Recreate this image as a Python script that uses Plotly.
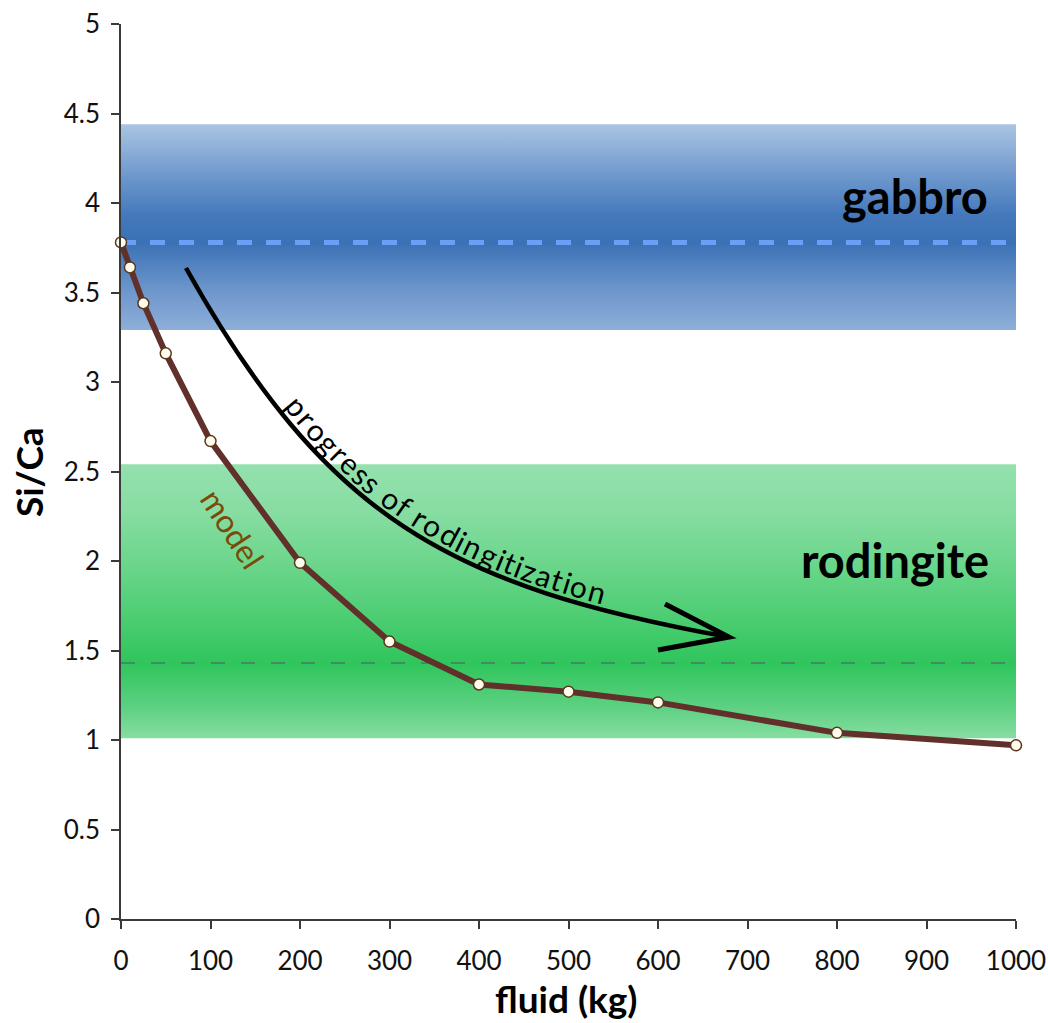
import numpy as np
import plotly.graph_objects as go

# ---------------- data ----------------
fluid_kg = [0, 10, 25, 50, 100, 200, 300, 400, 500, 600, 800, 1000]
si_ca_model = [3.78, 3.64, 3.44, 3.16, 2.67, 1.99, 1.55, 1.31, 1.27, 1.21, 1.04, 0.97]

gabbro_range = [3.29, 4.44]
gabbro_mean = 3.78
rodingite_range = [1.01, 2.54]
rodingite_mean = 1.43

x_ticks = [0, 100, 200, 300, 400, 500, 600, 700, 800, 900, 1000]
y_ticks = [0, 0.5, 1, 1.5, 2, 2.5, 3, 3.5, 4, 4.5, 5]
y_tick_labels = ["0", "0.5", "1", "1.5", "2", "2.5", "3", "3.5", "4", "4.5", "5"]

arrow_label = "progress of rodingitization"

# ---------------- layout constants ----------------
FIG_W, FIG_H = 1048, 1023
M_L, M_R, M_T, M_B = 121, 32, 24, 104
PW, PH = FIG_W - M_L - M_R, FIG_H - M_T - M_B
X_RANGE = [0, 1000]
Y_RANGE = [0, 5]
FONT = "Lato"


def to_px(x, y):
    return (M_L + (x - X_RANGE[0]) / (X_RANGE[1] - X_RANGE[0]) * PW,
            M_T + (Y_RANGE[1] - y) / (Y_RANGE[1] - Y_RANGE[0]) * PH)


def to_data(px, py):
    return (X_RANGE[0] + (px - M_L) / PW * (X_RANGE[1] - X_RANGE[0]),
            Y_RANGE[1] - (py - M_T) / PH * (Y_RANGE[1] - Y_RANGE[0]))


fig = go.Figure()


def band(rng, stops):
    lo, hi = rng
    cs = [[(v - lo) / (hi - lo), c] for v, c in stops]
    fig.add_trace(go.Scatter(
        x=[X_RANGE[0], X_RANGE[1], X_RANGE[1], X_RANGE[0], X_RANGE[0]],
        y=[lo, lo, hi, hi, lo], mode="lines", line=dict(width=0),
        fill="toself",
        fillgradient=dict(type="vertical", colorscale=cs, start=lo, stop=hi),
        hoverinfo="skip", showlegend=False))


g_lo, g_hi = gabbro_range
band(gabbro_range, [
    (g_lo, "#8dafd9"), (g_lo + 0.2, "#7199cd"), (gabbro_mean, "#3b71b5"),
    (gabbro_mean + 0.15, "#4478bb"), (gabbro_mean + 0.35, "#6a95cb"), (g_hi, "#aac4e2")])
r_lo, r_hi = rodingite_range
band(rodingite_range, [
    (r_lo, "#86dea2"), (r_lo + 0.15, "#62d286"), (rodingite_mean, "#2fc55c"),
    (rodingite_mean + 0.25, "#4ccd72"), (rodingite_mean + 0.6, "#70d78f"),
    (r_hi - 0.25, "#88dda3"), (r_hi, "#94e1ad")])

# mean dashed lines
fig.add_trace(go.Scatter(x=X_RANGE, y=[gabbro_mean, gabbro_mean], mode="lines",
                         line=dict(color="#6a9ff5", width=5, dash="15px,14px"),
                         hoverinfo="skip", showlegend=False))
fig.add_trace(go.Scatter(x=X_RANGE, y=[rodingite_mean, rodingite_mean], mode="lines",
                         line=dict(color="#3f8d60", width=2, dash="14px,16px"),
                         hoverinfo="skip", showlegend=False))

# model curve
fig.add_trace(go.Scatter(x=fluid_kg, y=si_ca_model, mode="lines+markers",
                         line=dict(color="#62302b", width=6),
                         marker=dict(size=11, color="#fffbee",
                                     line=dict(color="#5a3818", width=1.5)),
                         cliponaxis=False, showlegend=False))

# ---------------- curved arrow ----------------
ctrl = [to_data(186, 268), to_data(326, 518), to_data(448, 586), to_data(729, 637)]
path = "M {:.2f},{:.3f} C {:.2f},{:.3f} {:.2f},{:.3f} {:.2f},{:.3f}".format(
    *[v for p in ctrl for v in p])
fig.add_shape(type="path", path=path, xref="x", yref="y",
              line=dict(color="black", width=4.5), layer="above")
up = to_data(665, 604)
lo_ = to_data(658, 650)
tip = ctrl[3]
fig.add_shape(type="path",
              path="M {:.2f},{:.3f} L {:.2f},{:.3f} L {:.2f},{:.3f}".format(
                  up[0], up[1], tip[0], tip[1], lo_[0], lo_[1]),
              xref="x", yref="y", line=dict(color="black", width=5), layer="above")

# text along the arrow
P = np.array([to_px(*c) for c in ctrl])
t = np.linspace(0, 1, 3000)[:, None]
B = ((1 - t) ** 3) * P[0] + 3 * ((1 - t) ** 2) * t * P[1] + 3 * (1 - t) * t ** 2 * P[2] + t ** 3 * P[3]
dB = 3 * ((1 - t) ** 2) * (P[1] - P[0]) + 6 * (1 - t) * t * (P[2] - P[1]) + 3 * t ** 2 * (P[3] - P[2])
tang = dB / np.linalg.norm(dB, axis=1)[:, None]
normal = np.stack([tang[:, 1], -tang[:, 0]], axis=1)
OFF = 17
O = B + OFF * normal
seg = np.linalg.norm(np.diff(O, axis=0), axis=1)
s = np.concatenate([[0], np.cumsum(seg)])


def nearest(pt):
    return int(np.argmin(np.linalg.norm(O - np.array(pt), axis=1)))


i0, i1 = nearest((296, 408)), nearest((597, 593))
s0, s1 = s[i0], s[i1]

W_EM = {"p": .565, "r": .37, "o": .565, "g": .51, "e": .52, "s": .42, " ": .25, "f": .32,
        "d": .565, "i": .24, "n": .56, "t": .35, "z": .45, "a": .49}
widths = np.array([W_EM.get(c, .5) for c in arrow_label])
centers = np.cumsum(widths) - widths / 2
centers = (centers - centers[0]) / (centers[-1] - centers[0])
for ch, f in zip(arrow_label, centers):
    if ch == " ":
        continue
    sv = s0 + f * (s1 - s0)
    k = int(np.argmin(np.abs(s - sv)))
    ang = np.degrees(np.arctan2(tang[k, 1], tang[k, 0]))
    dx, dy = to_data(*O[k])
    fig.add_annotation(x=dx, y=dy, xref="x", yref="y", text=ch, showarrow=False,
                       textangle=ang, xanchor="center", yanchor="middle",
                       font=dict(family=FONT, size=30, color="black"))

# labels
gx, gy = to_data(915, 196)
fig.add_annotation(x=gx, y=gy, text="<b>gabbro</b>", showarrow=False,
                   font=dict(family=FONT, size=47, color="black"))
rx, ry = to_data(895, 560)
fig.add_annotation(x=rx, y=ry, text="<b>rodingite</b>", showarrow=False,
                   font=dict(family=FONT, size=47, color="black"))
mx, my = to_data(233, 528)
fig.add_annotation(x=mx, y=my, text="model", showarrow=False, textangle=57,
                   font=dict(family=FONT, size=32, color="#7a4a08"))

# axis titles
fig.add_annotation(xref="paper", yref="paper", x=-(M_L - 28) / PW, y=(FIG_H - M_B - 472) / PH,
                   text="<b>Si/Ca</b>", textangle=-90, showarrow=False,
                   xanchor="center", yanchor="middle",
                   font=dict(family=FONT, size=37, color="black"))
fig.add_annotation(xref="paper", yref="paper", x=(566 - M_L) / PW, y=-(999 - (FIG_H - M_B)) / PH,
                   text="<b>fluid (kg)</b>", showarrow=False,
                   xanchor="center", yanchor="middle",
                   font=dict(family=FONT, size=37, color="black"))

axis_common = dict(showline=True, linecolor="#3a3a3a", linewidth=1.5, ticks="outside",
                   ticklen=8, tickwidth=1.5, tickcolor="#3a3a3a", showgrid=False,
                   zeroline=False, tickfont=dict(family=FONT, size=26, color="#111"))
fig.update_xaxes(range=X_RANGE, tickvals=x_ticks, ticktext=[str(v) for v in x_ticks],
                 ticklabelstandoff=10, **axis_common)
fig.update_yaxes(range=Y_RANGE, tickvals=y_ticks, ticktext=y_tick_labels,
                 ticklabelstandoff=6, **axis_common)

fig.update_layout(width=FIG_W, height=FIG_H,
                  margin=dict(l=M_L, r=M_R, t=M_T, b=M_B, autoexpand=False),
                  plot_bgcolor="white", paper_bgcolor="white", showlegend=False)

fig.write_html("out.html", config={"displayModeBar": False},
               post_script="document.body.style.margin='0';document.body.style.overflow='hidden';")
